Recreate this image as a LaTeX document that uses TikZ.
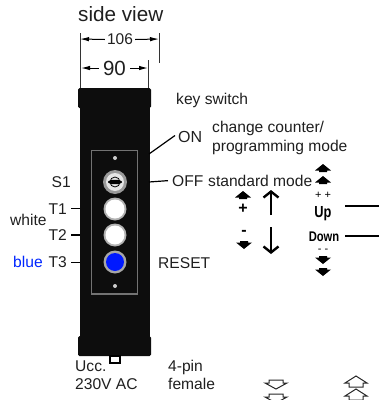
\documentclass[tikz,border=0pt]{standalone}
\usepackage{fontspec}
\setmainfont{Liberation Sans}
\usepackage{tikz}
\usetikzlibrary{calc}
\usetikzlibrary{arrows.meta}

\tikzset{
  txt/.style={inner sep=0pt,anchor=base west,font=\fontsize{15.6}{18}\selectfont,text=black!88},
  keylabel/.style={inner sep=0pt,anchor=base east,font=\fontsize{15.6}{18}\selectfont,text=black!88},
  dimline/.style={draw=black!80,line width=0.7pt},
  dimarrow/.style={draw=black,line width=1pt,-{Latex[length=9pt,width=4.5pt]}},
  wire/.style={draw=black,line width=1.2pt},
  softkey/.style={inner sep=0pt,font=\bfseries\fontsize{16}{18}\selectfont,xscale=0.8},
  sign/.style={inner sep=0pt,font=\bfseries\fontsize{16}{16}\selectfont},
  smallsign/.style={inner sep=0pt,font=\fontsize{11}{11}\selectfont},
}

\begin{document}
\begin{tikzpicture}[x=1pt,y=-1pt]
  % Boundary
  \path[use as bounding box] (0,0) rectangle (379,400);
  % Housing
  \fill[black!95] (80,100) rectangle (149.5,345);
  \fill[black!95,rounded corners=1.5pt] (78,88) rectangle (151,108);
  \fill[black!95,rounded corners=1.5pt] (78,336) rectangle (151,356);
  \filldraw[fill=white,draw=black,line width=1.2pt] (110,356) rectangle (120,363);
  % Front panel
  \draw[draw=black!55,line width=1.3pt] (91.5,150.5) rectangle (137.5,294);
  \fill[black!20] (115,158) circle (2);
  \fill[black!20] (115,286) circle (2);
  % Key switch
  \fill[black!40] (115,182) circle (12);
  \fill[black!10] (115,182) circle (9);
  \fill[black] (115,182) ellipse (7 and 2.2);
  \draw[black,line width=0.8pt] (115,182) circle (5);
  % Buttons
  \fill[black!30] (115,209) circle (11.5);
  \fill[white] (115,209) circle (9.5);
  \fill[black!30] (115,235) circle (11.5);
  \fill[white] (115,235) circle (9.5);
  \fill[black!35] (115,262) circle (11.5);
  \fill[blue!90!cyan] (115,262) circle (9);
  % Dimensions
  \coordinate (dimA) at (80,39);
  \coordinate (dimB) at (159,39);
  \coordinate (dimC) at (81,68);
  \coordinate (dimD) at (148,68);
  \draw[dimline] (80,33) -- (80,88);
  \draw[dimline] (159,33) -- (159,63);
  \draw[dimline] (148,60) -- (148,88);
  \node[inner sep=0pt,font=\fontsize{15.5}{18}\selectfont,text=black!88] (dim106) at (120,39.5) {106};
  \node[inner sep=0pt,font=\fontsize{20.5}{22}\selectfont,text=black!88] (dim90) at (114.5,68) {90};
  \draw[dimarrow] ($(dim106.east)+(2,0)$) -- (dimB);
  \draw[dimarrow] ($(dim106.west)+(-2,0)$) -- (dimA);
  \draw[dimarrow] ($(dim90.east)+(4,0)$) -- (dimD);
  \draw[dimarrow] ($(dim90.west)+(-4,0)$) -- (dimC);
  % Texts
  \node[txt,font=\fontsize{20.7}{24}\selectfont] (title) at (78,21) {side view};
  \node[txt] (keyswitch) at (176,104) {key switch};
  \node[txt,font=\fontsize{16}{18}\selectfont] (on) at (178,142) {ON};
  \node[txt] (change) at (212,132) {change counter/};
  \node[txt] (prog) at (212,151) {programming mode};
  \node[txt] (off) at (172,186) {OFF};
  \node[txt] (standard) at (208,186) {standard mode};
  \node[txt] (reset) at (158,268) {RESET};
  \node[keylabel] (s1) at (71,187.5) {S1};
  \node[keylabel] (t1) at (67,214) {T1};
  \node[keylabel] (t2) at (67,240.5) {T2};
  \node[keylabel] (t3) at (67,267.5) {T3};
  \node[txt] (white) at (10,225) {white};
  \node[txt,text=blue!85!cyan] (bluetxt) at (13,267.5) {blue};
  \node[txt] (ucc) at (75,371) {Ucc.};
  \node[txt] (ac) at (75,389) {230V AC};
  \node[txt] (pin) at (168,371) {4-pin};
  \node[txt] (female) at (168,389) {female};
  % Connections to the housing
  \coordinate (bodyOn) at (149,154);
  \coordinate (bodyOff) at (149,182);
  \draw[wire] ($(on.west)+(-3,-1)$) -- (bodyOn);
  \draw[wire] ($(off.west)+(-4,0)$) -- (bodyOff);
  \foreach \n in {t1,t2,t3}{
    \draw[wire] ($(\n.east)+(4,0)$) -- (\n.east -| 80,0);
  }
  % Filled arrows up
  \foreach \x/\y in {323/168,323/180,243/195}{
    \fill[black] (\x-8,\y+2.5) -- (\x,\y-4) -- (\x+8,\y+2.5) -- (\x+4,\y+2.5) -- (\x+4,\y+4) -- (\x-4,\y+4) -- (\x-4,\y+2.5) -- cycle;
  }
  % Filled arrows down
  \foreach \x/\y in {244/245,323/260,323/272}{
    \fill[black] (\x-8,\y-2.5) -- (\x,\y+4) -- (\x+8,\y-2.5) -- (\x+4,\y-2.5) -- (\x+4,\y-4) -- (\x-4,\y-4) -- (\x-4,\y-2.5) -- cycle;
  }
  % Hollow arrows
  \foreach \y in {384,398}{
    \draw[black!85,line width=1pt] (276-7,\y-4) -- (276+7,\y-4) -- (276+7,\y-1) -- (276+11,\y-1) -- (276,\y+5) -- (276-11,\y-1) -- (276-7,\y-1) -- cycle;
  }
  \foreach \y in {382,395}{
    \draw[black!85,line width=1pt] (356-7,\y+5) -- (356+7,\y+5) -- (356+7,\y+1) -- (356+11,\y+1) -- (356,\y-6) -- (356-11,\y+1) -- (356-7,\y+1) -- cycle;
  }
  % Large arrows
  \coordinate (upA) at (271,215);
  \coordinate (upB) at (271,190);
  \coordinate (dnA) at (271,227);
  \coordinate (dnB) at (271,254);
  \draw[black,line width=2.4pt,-{Straight Barb[length=6pt,width=15pt]}] (upA) -- (upB);
  \draw[black,line width=2.4pt,-{Straight Barb[length=6pt,width=15pt]}] (dnA) -- (dnB);
  % Signs
  \node[sign] (plus) at (243,209) {+};
  \node[sign] (minus) at (244,233) {-};
  \node[smallsign] (plusplus) at (323,195) {+ +};
  \node[smallsign] (minusminus) at (323,250.5) {- -};
  % Soft keys
  \node[softkey] (up) at (323,213.5) {Up};
  \node[softkey,font=\bfseries\fontsize{14}{14}\selectfont] (down) at (324,237) {Down};
  \coordinate (upEnd) at (379,206);
  \coordinate (downEnd) at (379,236);
  \coordinate (upStart) at (345,206);
  \coordinate (downStart) at (345,236);
  \draw[wire] (upStart) -- (upEnd);
  \draw[wire] (downStart) -- (downEnd);
\end{tikzpicture}
\end{document}
